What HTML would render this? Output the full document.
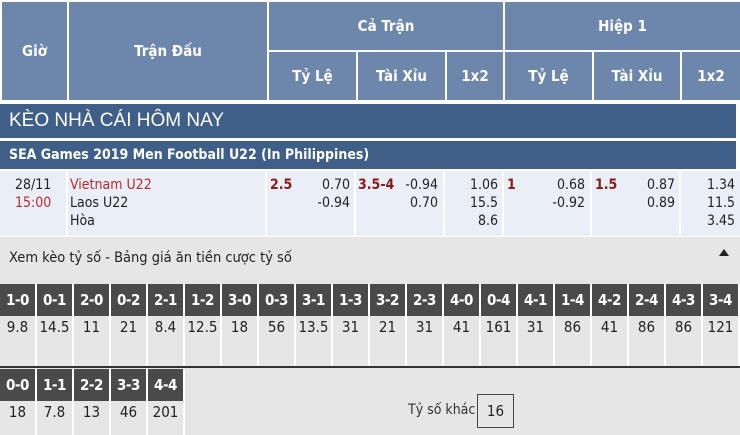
<!DOCTYPE html>
<html><head><meta charset="utf-8"><style>
*{margin:0;padding:0;box-sizing:border-box}
body{width:740px;height:435px;overflow:hidden;background:#e6e6e6;font-family:"DejaVu Sans Condensed","Liberation Sans",sans-serif;position:relative}
.a{position:absolute}
.h{background:#6c87ab;color:#fff;font-weight:bold;font-size:15px;display:flex;align-items:center;justify-content:center}
.s{background:#e9eef7}
.t{font-size:14px;color:#222;line-height:18px}
.r{color:#c0272d}
.dr{color:#8b1a1a;font-weight:bold}
.k{position:absolute;width:35px;height:32px;background:#4a4a4a;color:#fff;font-weight:bold;font-size:15px;text-align:center;line-height:32px;letter-spacing:-0.5px}
.v{position:absolute;width:35px;background:#e6e6e6;font-size:15px;text-align:center;color:#222;line-height:22px}
</style></head><body>
<div class="a" style="left:0;top:0;width:740px;height:102px;background:#fff"></div>
<div class="a h" style="left:2px;top:2px;width:65px;height:98px">Giờ</div>
<div class="a h" style="left:69px;top:2px;width:198px;height:98px">Trận Đấu</div>
<div class="a h" style="left:269px;top:2px;width:234px;height:48px">Cả Trận</div>
<div class="a h" style="left:505px;top:2px;width:235px;height:48px">Hiệp 1</div>
<div class="a h" style="left:269px;top:52px;width:87px;height:48px">Tỷ Lệ</div>
<div class="a h" style="left:358px;top:52px;width:87px;height:48px">Tài Xỉu</div>
<div class="a h" style="left:447px;top:52px;width:56px;height:48px">1x2</div>
<div class="a h" style="left:505px;top:52px;width:87px;height:48px">Tỷ Lệ</div>
<div class="a h" style="left:594px;top:52px;width:86px;height:48px">Tài Xỉu</div>
<div class="a h" style="left:682px;top:52px;width:58px;height:48px">1x2</div>
<div class="a" style="left:0;top:102px;width:740px;height:68px;background:#fff"></div>
<div class="a" style="left:0;top:104px;width:736px;height:34px;background:#3f5f88;color:#fff;font-size:19px;line-height:34px;padding-left:9px;font-family:'Liberation Sans',sans-serif">KÈO NHÀ CÁI HÔM NAY</div>
<div class="a" style="left:0;top:141px;width:736px;height:28px;background:#3f5f88;color:#fff;font-size:14px;font-weight:bold;line-height:28px;padding-left:9px">SEA Games 2019 Men Football U22 (In Philippines)</div>
<div class="a" style="left:0;top:170px;width:740px;height:67px;background:#fff"></div>
<div class="a s" style="left:0;top:171px;width:66px;height:65px"></div>
<div class="a s" style="left:68px;top:171px;width:197px;height:65px"></div>
<div class="a s" style="left:267px;top:171px;width:87px;height:65px"></div>
<div class="a s" style="left:356px;top:171px;width:87px;height:65px"></div>
<div class="a s" style="left:445px;top:171px;width:57px;height:65px"></div>
<div class="a s" style="left:504px;top:171px;width:86px;height:65px"></div>
<div class="a s" style="left:592px;top:171px;width:87px;height:65px"></div>
<div class="a s" style="left:681px;top:171px;width:59px;height:65px"></div>
<div class="a t" style="left:15px;top:176px">28/11<br><span class="r">15:00</span></div>
<div class="a t" style="left:70px;top:176px"><span class="r">Vietnam U22</span><br>Laos U22<br>Hòa</div>
<div class="a t dr" style="left:270px;top:176px">2.5</div>
<div class="a t" style="left:300px;top:176px;width:50px;text-align:right">0.70<br>-0.94</div>
<div class="a t dr" style="left:358px;top:176px">3.5-4</div>
<div class="a t" style="left:390px;top:176px;width:48px;text-align:right">-0.94<br>0.70</div>
<div class="a t" style="left:450px;top:176px;width:48px;text-align:right">1.06<br>15.5<br>8.6</div>
<div class="a t dr" style="left:507px;top:176px">1</div>
<div class="a t" style="left:530px;top:176px;width:55px;text-align:right">0.68<br>-0.92</div>
<div class="a t dr" style="left:595px;top:176px">1.5</div>
<div class="a t" style="left:620px;top:176px;width:55px;text-align:right">0.87<br>0.89</div>
<div class="a t" style="left:685px;top:176px;width:50px;text-align:right">1.34<br>11.5<br>3.45</div>
<div class="a" style="left:9px;top:250px;font-size:14.5px;color:#222">Xem kèo tỷ số - Bảng giá ăn tiền cược tỷ số</div>
<div class="a" style="left:719px;top:249px;width:0;height:0;border-left:5px solid transparent;border-right:5px solid transparent;border-bottom:7px solid #222"></div>
<div class="a" style="left:0;top:366px;width:740px;height:2px;background:#333"></div>
<div id="g"></div>
<div class="a" style="left:408px;top:402px;font-size:14px;color:#333">Tỷ số khác</div>
<div class="a" style="left:477px;top:394px;width:37px;height:34px;border:1px solid #444;font-size:15px;text-align:center;line-height:32px;color:#222">16</div>
<script>
var k1=["1-0","0-1","2-0","0-2","2-1","1-2","3-0","0-3","3-1","1-3","3-2","2-3","4-0","0-4","4-1","1-4","4-2","2-4","4-3","3-4"];
var v1=["9.8","14.5","11","21","8.4","12.5","18","56","13.5","31","21","31","41","161","31","86","41","86","86","121"];
var k2=["0-0","1-1","2-2","3-3","4-4"],v2=["18","7.8","13","46","201"];
var h="";
for(var i=0;i<20;i++){var x=i*37;h+='<div class="a" style="left:'+(x+35)+'px;top:284px;width:2px;height:82px;background:#fff"></div><div class="k" style="left:'+x+'px;top:284px">'+k1[i]+'</div><div class="v" style="left:'+x+'px;top:316px;height:50px">'+v1[i]+'</div>';}
for(var i=0;i<5;i++){var x=i*37;h+='<div class="a" style="left:'+(x+35)+'px;top:369px;width:2px;height:66px;background:#fff"></div><div class="k" style="left:'+x+'px;top:369px">'+k2[i]+'</div><div class="v" style="left:'+x+'px;top:401px;height:34px">'+v2[i]+'</div>';}
document.getElementById("g").innerHTML=h;
</script>
</body></html>
